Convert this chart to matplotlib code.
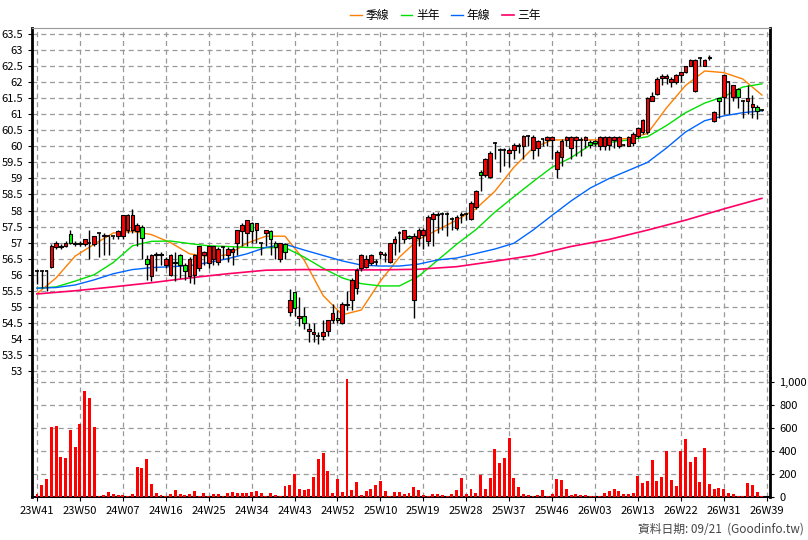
import matplotlib
matplotlib.use("Agg")
import matplotlib.pyplot as plt
from matplotlib.ticker import FuncFormatter
import numpy as np

plt.rcParams['font.family'] = ['Noto Sans CJK TC', 'DejaVu Sans']

week_labels = ["23W41","23W50","24W07","24W16","24W25","24W34","24W43","24W52","25W10",
               "25W19","25W28","25W37","25W46","26W03","26W13","26W22","26W31","26W39"]

opens = [56.1,56.1,56.1,56.25,56.85,56.85,56.9,57.27,56.95,57.0,56.95,57.0,56.95,57.3,57.2,57.2,57.2,57.2,57.2,57.4,
         57.4,57.35,57.5,56.5,55.95,56.65,56.65,56.3,56.0,56.4,56.6,56.3,55.95,56.0,56.2,56.6,56.35,56.5,56.4,56.85,
         56.6,56.7,57.0,57.35,57.3,57.6,57.4,57.0,57.3,57.35,57.0,56.5,56.95,54.85,55.45,54.65,54.7,54.25,54.15,54.1,
         54.1,54.25,54.6,54.65,54.5,55.05,55.2,55.6,56.2,56.25,56.35,56.4,56.65,56.6,56.4,57.0,57.3,57.1,57.2,55.2,
         57.15,57.25,57.05,57.75,57.85,57.9,57.9,57.75,57.45,57.85,57.9,57.75,58.1,59.2,59.1,59.05,60.1,59.9,59.9,59.8,
         59.9,60.0,60.02,60.33,59.9,59.95,60.23,60.2,60.2,59.29,59.66,60.2,59.95,60.2,60.2,60.2,60.15,60.18,60.02,60.02,
         60.05,60.2,60.02,60.04,60.02,60.12,60.33,60.44,60.44,61.43,61.62,62.12,62.12,62.02,62.02,62.23,62.33,62.52,61.74,62.75,
         62.52,62.75,60.8,61.5,61.53,62.02,61.53,61.8,61.43,61.43,61.24,61.22,61.13]
closes = [56.1,56.1,56.1,56.9,57.0,56.9,57.0,57.0,57.0,56.95,57.1,57.0,57.2,57.3,57.25,57.2,57.2,57.35,57.85,57.85,
          57.85,57.55,57.15,56.33,56.6,56.6,56.6,56.5,56.6,56.35,56.3,56.1,56.5,56.6,56.9,56.7,56.9,56.9,56.8,56.85,
          56.8,56.8,57.4,57.55,57.7,57.35,57.6,57.0,57.4,57.1,56.85,57.0,56.7,55.2,54.95,54.7,54.5,54.3,54.2,54.1,
          54.2,54.6,54.8,54.6,55.1,55.1,55.85,56.15,56.6,56.5,56.6,56.4,56.7,56.6,57.0,57.1,57.3,57.4,57.15,57.2,
          57.4,57.4,57.8,57.9,57.9,57.9,57.9,57.75,57.8,57.9,57.9,58.25,58.6,59.1,59.6,59.8,60.1,59.9,59.9,59.9,
          60.05,60.05,60.31,60.33,60.3,60.18,60.23,60.3,60.3,59.83,60.18,60.3,60.3,60.3,60.2,60.3,60.05,60.1,60.3,60.3,
          60.3,60.3,60.3,60.04,60.3,60.4,60.57,60.82,61.5,61.58,62.1,62.2,62.2,62.1,62.23,62.31,62.5,62.7,62.7,62.75,
          62.7,62.8,61.08,61.43,62.23,62.02,61.9,61.53,61.43,61.5,61.32,61.11,61.13]
highs = [56.15,56.15,56.15,56.95,57.05,56.95,57.05,57.4,57.05,57.05,57.1,57.4,57.2,57.3,57.3,57.2,57.2,57.4,57.85,57.9,
         58.05,57.6,57.55,56.6,56.65,56.7,56.7,56.55,56.65,56.7,56.65,56.35,56.55,56.65,56.9,56.75,56.9,56.9,56.85,56.9,
         56.85,56.85,57.4,57.6,57.7,57.65,57.6,57.0,57.4,57.4,57.05,57.0,57.0,55.55,55.45,55.3,55.0,54.5,54.5,54.2,
         54.6,54.6,55.1,54.9,55.15,55.5,55.9,56.2,56.65,56.6,56.65,56.5,56.75,56.7,57.0,57.2,57.35,57.4,57.25,57.3,
         57.45,57.45,57.85,57.95,57.95,57.95,57.95,57.8,57.85,57.95,57.95,58.3,58.65,59.25,59.65,59.85,60.15,59.95,59.95,59.95,
         60.1,60.1,60.35,60.35,60.35,60.2,60.25,60.33,60.33,59.9,60.22,60.33,60.33,60.33,60.3,60.33,60.2,60.2,60.33,60.33,
         60.33,60.33,60.33,60.08,60.33,60.45,60.6,60.85,61.55,61.7,62.15,62.25,62.25,62.15,62.25,62.33,62.52,62.72,62.72,62.8,
         62.72,62.85,61.1,61.52,62.25,62.05,61.92,61.82,61.45,61.9,61.6,61.3,61.15]
lows = [55.7,55.6,55.5,56.2,56.8,56.8,56.85,56.95,56.9,56.9,56.9,56.5,56.9,56.55,56.6,56.6,57.1,57.1,57.1,57.3,
        57.3,56.9,56.5,55.85,55.8,56.1,56.3,56.2,55.95,55.8,55.9,55.85,55.75,55.7,56.1,56.3,56.2,56.3,56.3,56.5,
        56.4,56.3,56.6,56.9,56.9,57.0,57.0,56.6,56.9,56.6,56.5,56.4,56.5,54.7,54.7,54.4,54.3,53.9,53.9,53.85,
        53.95,54.1,54.5,54.5,54.45,54.9,54.9,55.4,56.1,56.2,56.3,56.3,56.5,56.4,56.35,56.6,56.7,57.0,57.1,54.65,
        56.9,56.8,56.9,56.9,57.3,57.4,57.2,57.4,57.4,57.6,57.7,57.7,58.05,58.6,59.05,59.0,59.6,59.2,59.4,59.35,
        59.6,59.8,59.6,60.0,59.6,59.7,60.0,60.0,59.6,59.0,59.4,60.0,59.6,59.7,59.7,59.95,59.95,60.0,59.9,59.9,
        59.9,59.95,59.95,60.0,60.0,60.0,60.25,60.4,60.4,61.4,61.6,61.9,61.95,61.85,61.95,62.0,62.3,62.5,61.7,62.5,
        62.5,62.7,60.75,60.9,61.0,61.0,61.4,61.2,60.9,61.0,60.9,60.85,61.1]

volume = [26,105,157,608,620,346,337,585,433,637,925,863,610,9,15,44,26,17,17,6,
          26,262,253,331,113,35,17,12,29,58,26,17,29,49,6,35,9,26,26,12,
          35,44,35,32,35,44,52,35,9,35,15,6,96,105,200,70,61,70,174,331,
          384,227,35,157,44,1025,61,131,17,52,70,105,140,52,9,44,44,26,35,87,
          61,17,9,26,26,17,9,26,61,166,26,70,35,192,70,166,419,297,340,515,
          166,87,26,17,9,17,61,9,26,157,148,70,17,26,17,17,9,9,9,35,
          52,70,52,26,26,35,183,122,140,323,140,174,401,148,96,401,506,305,349,131,
          427,113,70,78,70,35,26,9,9,122,105,44,9]

ma_idx = list(range(0, 153, 4))
ma13 = [55.41,55.9,56.58,56.95,57.3,57.35,57.25,57.0,56.65,56.57,56.62,56.98,57.2,57.2,56.46,55.35,54.75,54.9,55.8,56.55,
        57.1,57.4,57.7,58.05,58.6,59.35,59.95,60.2,60.2,60.2,60.2,60.25,60.4,61.2,61.9,62.35,62.3,62.1,61.6]
ma26 = [55.58,55.62,55.8,56.0,56.38,56.9,57.04,57.05,56.97,56.9,56.88,56.85,56.84,56.85,56.55,56.2,55.9,55.72,55.65,55.65,
        55.95,56.45,56.95,57.4,57.95,58.43,58.9,59.35,59.65,60.04,60.12,60.2,60.3,60.65,61.05,61.35,61.55,61.85,61.95]
ma52 = [55.58,55.6,55.68,55.84,56.03,56.16,56.22,56.25,56.28,56.38,56.5,56.65,56.85,56.95,56.77,56.6,56.43,56.3,56.27,56.27,
        56.33,56.46,56.52,56.66,56.8,56.98,57.39,57.85,58.3,58.7,59.0,59.25,59.5,59.95,60.45,60.8,60.95,61.05,61.11]
ma156_idx = list(range(0, 153, 8))
ma156 = [55.4,55.5,55.62,55.75,55.9,56.03,56.14,56.16,56.15,56.15,56.17,56.25,56.42,56.6,56.88,57.1,57.39,57.7,58.05,58.38]

fig = plt.figure(figsize=(8.08, 5.4), dpi=100)
ax = fig.add_axes([32/808, 1-378/540, 738/808, 350/540])
axv = fig.add_axes([32/808, 1-497/540, 738/808, 119/540], sharex=ax)

n = len(closes)
x = np.arange(n)
grid_kw = dict(color='#999999', linestyle=(0, (4, 3)), linewidth=0.9)

for i in range(n):
    o, c, h, l = opens[i], closes[i], highs[i], lows[i]
    col = '#FF0000' if c >= o else '#00FF00'
    ax.vlines(x[i], l, h, color='black', linewidth=1, zorder=3)
    if abs(c - o) < 0.03:
        ax.hlines(c, x[i]-0.4, x[i]+0.4, color='black', linewidth=1.2, zorder=4)
    else:
        ax.add_patch(plt.Rectangle((x[i]-0.38, min(o, c)), 0.76, abs(c-o),
                                   facecolor=col, edgecolor='black', linewidth=0.8, zorder=4))

ax.plot(ma_idx, ma13, color='#FF7F00', linewidth=1, label='季線', zorder=2)
ax.plot(ma_idx, ma26, color='#00E000', linewidth=1, label='半年', zorder=2)
ax.plot(ma_idx, ma52, color='#0066FF', linewidth=1, label='年線', zorder=2)
ax.plot(ma156_idx, ma156, color='#FF0066', linewidth=1.2, label='三年', zorder=2)

ax.set_xlim(-1.05, 153.7)
ax.set_ylim(52.78, 63.69)
ax.set_yticks(np.arange(53, 63.51, 0.5))
ax.yaxis.set_major_formatter(FuncFormatter(lambda v, p: f"{v:g}"))
ax.set_xticks(np.arange(0, 154, 9))
ax.tick_params(axis='x', labelbottom=False, length=0)
ax.tick_params(axis='y', labelsize=8, length=3)
ax.grid(True, **grid_kw)
ax.set_axisbelow(True)
ax.spines['top'].set_color('#999999')
ax.spines['left'].set_linewidth(2)
ax.spines['right'].set_linewidth(2)
ax.spines['bottom'].set_visible(False)

axv.bar(x, volume, width=0.62, color='#FF0000', zorder=3)
axv.set_ylim(0, 1037)
axv.set_yticks(np.arange(0, 1001, 200))
axv.yaxis.tick_right()
axv.yaxis.set_major_formatter(FuncFormatter(lambda v, p: f"{int(v):,}"))
axv.tick_params(axis='y', labelsize=8, length=3)
axv.set_xticks(np.arange(0, 154, 9))
axv.set_xticklabels(week_labels, fontsize=8)
axv.tick_params(axis='x', length=3)
axv.grid(True, **grid_kw)
axv.set_axisbelow(True)
axv.spines['top'].set_visible(False)
axv.spines['left'].set_linewidth(2)
axv.spines['right'].set_linewidth(2)
axv.spines['bottom'].set_linewidth(1.5)

ax.legend(loc='lower center', bbox_to_anchor=(0.56, 1.0), ncol=4, frameon=False,
          fontsize=8.5, handlelength=1.0, handletextpad=0.3, columnspacing=1.0, borderaxespad=0.1)

fig.text(0.995, 0.008, '資料日期: 09/21  (Goodinfo.tw)', ha='right', va='bottom', fontsize=8.5, color='#444444')

fig.savefig('out.png', dpi=100)
